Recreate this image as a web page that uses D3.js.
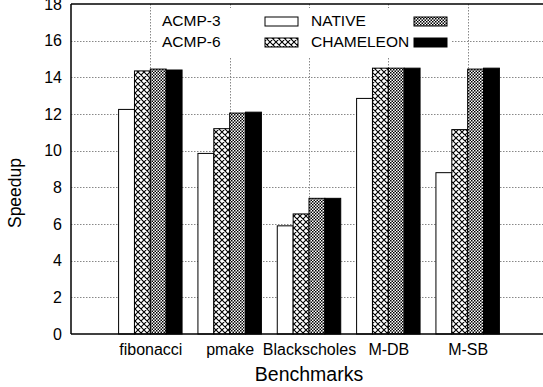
<!DOCTYPE html>
<html>
<head>
<meta charset="utf-8">
<script src="https://cdn.jsdelivr.net/npm/d3@7"></script>
<style>
  body { margin: 0; background: #fff; }
  svg { display: block; font-family: "Liberation Sans", Arial, Helvetica, sans-serif; }
</style>
</head>
<body>
<script>
// data
var benchmarks = ["fibonacci", "pmake", "Blackscholes", "M-DB", "M-SB"];
var acmp3     = [12.25, 9.85, 5.9, 12.85, 8.8];
var acmp6     = [14.35, 11.2, 6.55, 14.5, 11.15];
var native    = [14.45, 12.05, 7.4, 14.5, 14.45];
var chameleon = [14.4, 12.1, 7.4, 14.5, 14.5];
var seriesNames = ["ACMP-3", "ACMP-6", "NATIVE", "CHAMELEON"];
var yTicks = [0, 2, 4, 6, 8, 10, 12, 14, 16, 18];

var series = [acmp3, acmp6, native, chameleon];
var fills = ["#fff", "url(#cross)", "url(#dots)", "#000"];

var W = 543, H = 387;
var plotL = 71, plotT = 4, plotB = 334, plotR = 547;

var svg = d3.select("body").append("svg")
    .attr("width", W)
    .attr("height", H);

// patterns
var defs = svg.append("defs");
var cross = defs.append("pattern")
    .attr("id", "cross")
    .attr("patternUnits", "userSpaceOnUse")
    .attr("width", 6).attr("height", 6);
cross.append("rect").attr("width", 6).attr("height", 6).attr("fill", "#fff");
cross.append("path")
    .attr("d", "M0,0L6,6M6,0L0,6M-1,5L1,7M5,-1L7,1M-1,1L1,-1M5,7L7,5")
    .attr("stroke", "#000").attr("stroke-width", 1.1);

var dots = defs.append("pattern")
    .attr("id", "dots")
    .attr("patternUnits", "userSpaceOnUse")
    .attr("width", 3).attr("height", 3);
dots.append("rect").attr("width", 3).attr("height", 3).attr("fill", "#fff");
dots.append("rect").attr("x", 0).attr("y", 0).attr("width", 1.5).attr("height", 1.5).attr("fill", "#000");
dots.append("rect").attr("x", 1.5).attr("y", 1.5).attr("width", 1.5).attr("height", 1.5).attr("fill", "#000");

// scales
var x = d3.scaleLinear().domain([-1, 5]).range([plotL, plotR]);
var y = d3.scaleLinear().domain([0, 18]).range([plotB, plotT]);
var barW = 0.2;

// grid
svg.append("g").selectAll("line")
    .data(yTicks.filter(function(d) { return d > 0 && d < 18; }))
    .enter().append("line")
    .attr("x1", plotL).attr("x2", plotR)
    .attr("y1", function(d) { return Math.round(y(d)) + 0.5; })
    .attr("y2", function(d) { return Math.round(y(d)) + 0.5; })
    .attr("stroke", "#888").attr("stroke-width", 1)
    .attr("stroke-dasharray", "1.5,1.5");

svg.append("g").selectAll("line")
    .data(benchmarks)
    .enter().append("line")
    .attr("x1", function(d, i) { return Math.round(x(i)) + 0.5; })
    .attr("x2", function(d, i) { return Math.round(x(i)) + 0.5; })
    .attr("y1", plotT).attr("y2", plotB)
    .attr("stroke", "#888").attr("stroke-width", 1)
    .attr("stroke-dasharray", "1.5,1.5");

// legend box (opaque, covers grid)
svg.append("rect")
    .attr("x", 158).attr("y", 8)
    .attr("width", 294).attr("height", 49)
    .attr("fill", "#fff");

// bars
series.forEach(function(vals, s) {
    svg.append("g").selectAll("rect")
        .data(vals)
        .enter().append("rect")
        .attr("x", function(d, i) { return x(i - 0.4 + s * barW); })
        .attr("width", x(barW) - x(0))
        .attr("y", function(d) { return y(d); })
        .attr("height", function(d) { return y(0) - y(d); })
        .attr("fill", fills[s])
        .attr("stroke", "#000")
        .attr("stroke-width", 1);
});

// axes / border
svg.append("line")
    .attr("x1", plotL).attr("x2", plotL).attr("y1", plotT).attr("y2", plotB)
    .attr("stroke", "#000").attr("stroke-width", 1.5);
svg.append("line")
    .attr("x1", plotL).attr("x2", plotR).attr("y1", plotB).attr("y2", plotB)
    .attr("stroke", "#000").attr("stroke-width", 1.5);
svg.append("line")
    .attr("x1", plotL).attr("x2", plotR).attr("y1", plotT).attr("y2", plotT)
    .attr("stroke", "#000").attr("stroke-width", 1.5);

var yAxis = d3.axisLeft(y).tickValues(yTicks).tickSize(0).tickPadding(9);
svg.append("g")
    .attr("transform", "translate(" + plotL + ",0)")
    .call(yAxis)
    .call(function(g) { g.select(".domain").remove(); })
    .selectAll("text")
    .attr("font-size", 16)
    .attr("font-family", "Liberation Sans, Arial, sans-serif")
    .attr("fill", "#000");

var xAxis = d3.axisBottom(x)
    .tickValues(d3.range(benchmarks.length))
    .tickFormat(function(d) { return benchmarks[d]; })
    .tickSize(0).tickPadding(10);
svg.append("g")
    .attr("transform", "translate(0," + plotB + ")")
    .call(xAxis)
    .call(function(g) { g.select(".domain").remove(); })
    .selectAll("text")
    .attr("font-size", 16)
    .attr("font-family", "Liberation Sans, Arial, sans-serif")
    .attr("fill", "#000");

// axis titles
svg.append("text")
    .attr("x", 309).attr("y", 381)
    .attr("text-anchor", "middle")
    .attr("font-size", 19.5)
    .text("Benchmarks");
svg.append("text")
    .attr("transform", "translate(21,193) rotate(-90)")
    .attr("text-anchor", "middle")
    .attr("font-size", 17.5)
    .text("Speedup");

// legend
var legPos = [
    {tx: 162, ty: 26, sx: 265, sy: 17},
    {tx: 162, ty: 47, sx: 265, sy: 38},
    {tx: 311, ty: 26, sx: 414, sy: 17},
    {tx: 311, ty: 47, sx: 414, sy: 38}
];
seriesNames.forEach(function(name, s) {
    var p = legPos[s];
    svg.append("text")
        .attr("x", p.tx).attr("y", p.ty)
        .attr("font-size", 15.5)
        .text(name);
    svg.append("rect")
        .attr("x", p.sx).attr("y", p.sy)
        .attr("width", 33).attr("height", 9)
        .attr("fill", fills[s])
        .attr("stroke", "#000").attr("stroke-width", 1);
});
</script>
</body>
</html>
